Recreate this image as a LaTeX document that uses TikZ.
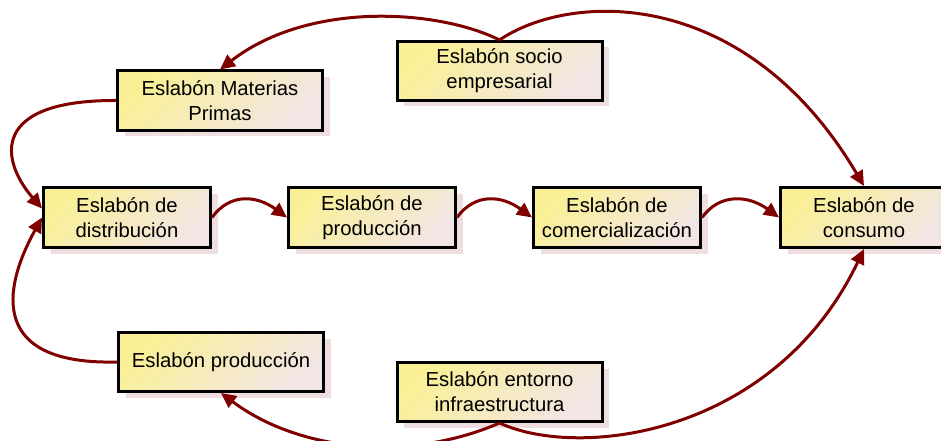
\documentclass[tikz,border=0pt]{standalone}
\usepackage{fontspec}
\setmainfont{Liberation Sans}
\usetikzlibrary{arrows.meta,shadows}
\definecolor{linkred}{RGB}{128,0,0}
\definecolor{boxyellow}{RGB}{249,240,150}
\definecolor{boxpink}{RGB}{242,229,229}
\definecolor{shadowpink}{RGB}{238,222,224}
\begin{document}
\begin{tikzpicture}[x=1pt,y=-1pt,
  eslabon/.style={draw=black, line width=3pt, rectangle, align=center,
    top color=boxyellow, bottom color=boxpink, shading angle=45,
    drop shadow={fill=shadowpink, opacity=1, shadow xshift=7pt, shadow yshift=-6pt},
    font=\fontsize{20.3}{25}\selectfont, inner sep=0pt},
  wide/.style={minimum width=205pt, minimum height=59pt},
  mid/.style={minimum width=167pt, minimum height=60pt},
  link/.style={draw=linkred, line width=3pt, -{Triangle[length=15pt,width=14pt]}}]
\useasboundingbox (0,0) rectangle (941,441);

\node[eslabon, wide] (mp) at (220,100.5) {Eslabón Materias\\Primas};
\node[eslabon, wide] (socio) at (499.5,71) {Eslabón socio\\empresarial};
\node[eslabon, mid] (dist) at (127,217.5) {Eslabón de\\distribución};
\node[eslabon, mid] (prod) at (372,217.5) {Eslabón de\\producción};
\node[eslabon, mid] (com) at (617,217.5) {Eslabón de\\comercialización};
\node[eslabon, mid] (cons) at (864,217.5) {Eslabón de\\consumo};
\node[eslabon, wide] (ep) at (221,362) {Eslabón producción};
\node[eslabon, wide] (ent) at (499.5,392) {Eslabón entorno\\infraestructura};

\draw[link] (socio.north) .. controls (440,10) and (310,0) .. (mp.north);
\draw[link] (socio.north) .. controls (570,-8) and (745,-15) .. (cons.north);
\draw[link] (mp.west) .. controls (-10,100) and (0,160) .. ([yshift=9pt]dist.west);
\draw[link] (ep.west) .. controls (-10,365) and (2,290) .. (dist.west);
\draw[link] (dist.east) .. controls +(18,-25) and +(-30,-22) .. (prod.west);
\draw[link] (prod.east) .. controls +(18,-25) and +(-30,-22) .. (com.west);
\draw[link] (com.east) .. controls +(18,-25) and +(-30,-22) .. (cons.west);
\draw[link] (ent.south) .. controls (410,462) and (300,452) .. (ep.south);
\draw[link] (ent.south) .. controls (580,460) and (775,435) .. (cons.south);
\end{tikzpicture}
\end{document}
